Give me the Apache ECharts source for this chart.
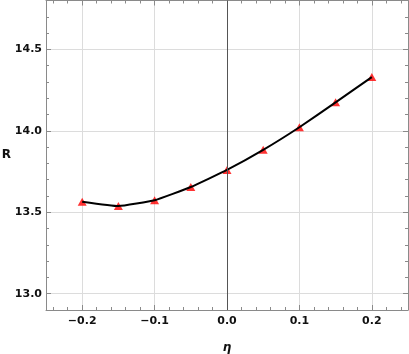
<!DOCTYPE html>
<html><head><meta charset="utf-8">
<script src="https://cdn.jsdelivr.net/npm/echarts@6/dist/echarts.min.js"></script>
<style>html,body{margin:0;padding:0;background:#fff}#c{width:409px;height:354px}</style>
</head><body><div id="c"></div>
<script>
var eta = [-0.2, -0.15, -0.1, -0.05, 0.0, 0.05, 0.1, 0.15, 0.2];
var R = [13.565, 13.538, 13.574, 13.655, 13.760, 13.883, 14.022, 14.175, 14.330];
var xTicks = [-0.2, -0.1, 0.0, 0.1, 0.2];
var xMinor = [-0.24, -0.22, -0.18, -0.16, -0.14, -0.12, -0.08, -0.06, -0.04, -0.02, 0.02, 0.04, 0.06, 0.08, 0.12, 0.14, 0.16, 0.18, 0.22, 0.24];
var yTicks = [13.0, 13.5, 14.0, 14.5];
var yMinor = [13.1, 13.2, 13.3, 13.4, 13.6, 13.7, 13.8, 13.9, 14.1, 14.2, 14.3, 14.4, 14.6, 14.7];
var xName = 'η', yName = 'R';

var frame = '#8a8a8a';
var fmt = function (v) { return (v < 0 ? '\u2212' : '') + Math.abs(v).toFixed(1); };
var labelStyle = { fontFamily: 'DejaVu Sans', fontWeight: 'bold', fontSize: 11, color: '#111' };
function mkX(pos, vals, len, main) {
  return {
    type: 'value', min: -0.25, max: 0.25, position: pos, gridIndex: 0,
    axisLine: { show: main, onZero: false, lineStyle: { color: frame, width: 1 } },
    axisTick: { show: true, inside: true, length: len, customValues: vals, lineStyle: { color: frame } },
    axisLabel: main && pos === 'bottom' ? Object.assign({ show: true, customValues: xTicks, formatter: fmt, margin: 6 }, labelStyle) : { show: false },
    splitLine: { show: main && pos === 'bottom', lineStyle: { color: '#dcdcdc', width: 1 } },
    name: main && pos === 'bottom' ? xName : '',
    nameLocation: 'middle', nameGap: 32, nameMoveOverlap: false,
    nameTextStyle: { fontFamily: 'DejaVu Sans', fontStyle: 'italic', fontWeight: 'bold', fontSize: 12, color: '#111' }
  };
}
function mkY(pos, vals, len, main) {
  return {
    type: 'value', min: 12.9, max: 14.8, position: pos, gridIndex: 0,
    axisLine: { show: main, onZero: false, lineStyle: { color: frame, width: 1 } },
    axisTick: { show: true, inside: true, length: len, customValues: vals, lineStyle: { color: frame } },
    axisLabel: main && pos === 'left' ? Object.assign({ show: true, customValues: yTicks, formatter: fmt, margin: 4 }, labelStyle) : { show: false },
    splitLine: { show: main && pos === 'left', lineStyle: { color: '#dcdcdc', width: 1 } },
    name: main && pos === 'left' ? yName : '',
    nameLocation: 'middle', nameGap: 35, nameRotate: 0, nameMoveOverlap: false,
    nameTextStyle: { fontFamily: 'DejaVu Sans', fontWeight: 'bold', fontSize: 12, color: '#111' }
  };
}
var xa = [mkX('bottom', xTicks, 5, true), mkX('bottom', xMinor, 3, false), mkX('top', xTicks, 5, true), mkX('top', xMinor, 3, false)];
var ya = [mkY('left', yTicks, 5, true), mkY('left', yMinor, 3, false), mkY('right', yTicks, 5, true), mkY('right', yMinor, 3, false)];

var pts = eta.map(function (e, i) { return [e, R[i]]; });
var chart = echarts.init(document.getElementById('c'), null, { renderer: 'canvas' });
chart.setOption({
  animation: false,
  grid: { left: 46, right: 1, top: 0.5, bottom: 44, containLabel: false, outerBoundsMode: 'none' },
  xAxis: xa,
  yAxis: ya,
  series: [
    {
      type: 'scatter', data: pts, xAxisIndex: 0, yAxisIndex: 0,
      symbol: 'triangle', symbolSize: [9, 8],
      itemStyle: { color: '#ff0000' }, z: 3,
      markLine: {
        silent: true, symbol: 'none', label: { show: false },
        lineStyle: { color: '#555', width: 1, type: 'solid' },
        data: [{ xAxis: 0 }]
      }
    },
    {
      type: 'line', data: pts, xAxisIndex: 0, yAxisIndex: 0,
      showSymbol: false, smooth: 0.12,
      lineStyle: { color: '#000', width: 2 }, z: 4
    }
  ]
});
</script></body></html>
